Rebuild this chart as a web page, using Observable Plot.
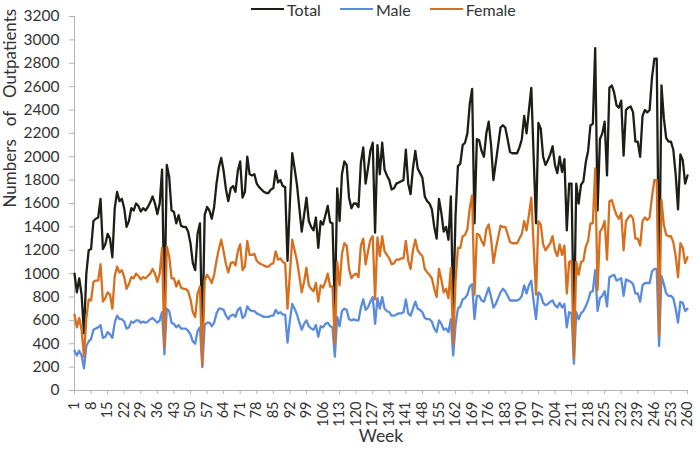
<!DOCTYPE html>
<html>
<head>
<meta charset="utf-8">
<script src="https://cdn.jsdelivr.net/npm/d3@7"></script>
<script src="https://cdn.jsdelivr.net/npm/@observablehq/plot@0.6"></script>
<style>
  html, body { margin: 0; padding: 0; background: #fff; }
  #wrap { position: relative; width: 700px; height: 453px; font-family: Lato, "Liberation Sans", sans-serif; }
  #legend { position: absolute; top: 0; left: 251px; height: 18px; display: flex; align-items: center; font-size: 16px; color: #333; z-index: 2; }
  #legend .item { display: flex; align-items: center; margin-right: 19px; }
  #legend .sw { width: 33px; height: 0; border-top: 2.5px solid; margin-right: 3px; }
</style>
</head>
<body>
<div id="wrap"><div id="legend"></div><div id="chart"></div></div>
<script>
const seriesNames = ["Total", "Male", "Female"];
const seriesColors = ["#1e1e18", "#5b8bdc", "#d6701e"];

const weeks = d3.range(1, 261);

const total = [
1000,840,960,820,490,1000,1200,1210,1450,1470,1480,1640,1210,1250,1340,1300,1140,1560,1700,1620,
1640,1560,1400,1450,1560,1540,1600,1580,1530,1560,1540,1570,1610,1660,1600,1510,1600,1890,680,1930,
1830,1540,1530,1430,1500,1410,1400,1400,1360,1260,1090,1030,1340,1430,420,1500,1570,1540,1470,1570,
1770,1910,1990,1880,1720,1620,1730,1750,1700,1880,1960,1650,1700,2000,1850,1840,1850,1770,1740,1720,
1700,1690,1690,1720,1730,1880,1780,1800,1750,1740,1110,1600,2030,1900,1760,1560,1360,1500,1650,1450,
1400,1370,1480,1220,1450,1420,1500,1580,1440,1430,690,1730,1450,1850,1960,1930,1650,1560,1600,1600,
1570,1950,2080,1770,1900,2050,2120,1350,2100,1850,2120,1890,1840,1800,1720,1730,1770,1780,1790,1800,
2060,1770,1680,1900,2050,1900,1860,1820,1660,1620,1600,1550,1400,1300,1640,1520,1360,1400,1290,1660,
700,1500,1920,1940,2100,2120,2200,2450,2580,1430,2150,2140,2050,2000,2200,2300,2100,1800,1950,2100,
2250,2270,2250,2150,2040,2030,2030,2030,2080,2150,2350,2200,2400,2590,2000,1430,2290,2240,2000,1930,
1970,2020,2090,1930,1860,2000,1870,1980,1370,1770,1770,500,1770,1600,1760,1790,1950,2050,2270,2280,
2930,1540,2150,2200,2300,1840,2590,2610,2550,2440,2420,2480,2010,2400,2420,2430,2380,2130,2130,2000,
2350,2400,2380,2400,2680,2840,2840,850,2610,2330,2160,2130,2130,2060,1850,1550,2020,1970,1770,1840
];

const female = [
650,540,620,520,290,620,780,770,930,940,940,1080,760,790,840,820,700,980,1060,1010,
1030,970,870,910,970,960,1000,980,950,970,960,980,1000,1040,1000,930,1000,1220,370,1230,
1150,960,960,890,940,880,870,870,850,780,670,630,830,890,220,940,990,960,920,990,
1110,1210,1290,1190,1080,1010,1090,1100,1070,1190,1250,1030,1060,1280,1160,1160,1170,1110,1090,1080,
1070,1060,1060,1080,1090,1190,1120,1130,1100,1090,700,1000,1290,1200,1110,980,840,930,1050,900,
870,850,920,760,900,880,930,1000,890,890,400,1100,900,1170,1260,1240,1040,960,990,1000,
970,1240,1300,1080,1190,1290,1320,780,1310,1150,1320,1190,1160,1130,1080,1090,1120,1120,1130,1130,
1280,1110,1040,1200,1290,1200,1170,1150,1040,1010,990,960,870,800,1040,950,840,870,790,1050,
400,940,1220,1220,1320,1330,1380,1560,1670,820,1340,1330,1280,1240,1380,1420,1300,1090,1210,1310,
1410,1400,1400,1340,1270,1260,1260,1260,1300,1340,1450,1370,1500,1650,1240,820,1450,1420,1250,1200,
1230,1260,1320,1200,1150,1250,1160,1240,830,1100,1110,270,1100,990,1100,1110,1230,1280,1430,1430,
1900,860,1360,1390,1450,1120,1620,1630,1560,1500,1470,1520,1200,1450,1480,1500,1470,1300,1300,1240,
1450,1480,1460,1480,1660,1800,1800,470,1630,1420,1330,1320,1320,1270,1150,970,1260,1220,1090,1140
];

const male = [
340,300,340,300,190,380,420,440,520,530,540,560,450,460,500,480,450,580,640,610,
610,590,530,540,590,580,600,600,580,590,580,590,610,620,600,580,600,670,310,700,
680,580,570,540,560,530,530,530,510,480,420,400,510,540,200,560,580,580,550,580,
660,700,700,690,640,610,640,650,630,690,710,620,640,720,690,680,680,660,650,640,
630,630,630,640,640,690,660,670,650,650,410,600,740,700,650,580,520,570,600,550,
530,520,560,460,550,540,570,580,550,540,290,630,550,680,700,690,610,600,610,600,
600,710,780,690,710,760,800,570,790,700,800,700,680,670,640,640,650,660,660,670,
780,660,640,700,760,700,690,670,620,610,610,590,530,500,600,570,520,530,500,610,
300,560,700,720,780,790,820,890,910,610,810,810,770,760,820,880,800,710,740,790,
840,870,850,810,770,770,770,770,780,810,900,830,900,940,760,610,840,820,750,730,
740,760,770,730,710,750,710,740,540,670,660,230,670,610,660,680,720,770,840,850,
1030,680,790,810,850,720,970,980,990,940,950,960,810,950,940,930,910,830,830,760,
900,920,920,920,1020,1040,1040,380,980,910,830,810,810,790,700,580,760,750,680,700
];

const xTicks = [1,8,15,22,29,36,43,50,57,64,71,78,85,92,99,106,113,120,127,134,141,148,155,162,169,176,183,190,197,204,211,218,225,232,239,246,253,260];
const yTicks = [0,200,400,600,800,1000,1200,1400,1600,1800,2000,2200,2400,2600,2800,3000,3200];
const xTitle = "Week";
const yTitle = "Numbers\u00a0\u00a0 of\u00a0\u00a0 Outpatients";

const seriesValues = [total, male, female];
const rows = [];
seriesNames.forEach((name, s) => {
  weeks.forEach((w, i) => rows.push({week: w, series: name, value: seriesValues[s][i]}));
});

const axisGray = "#b4b4b4";
const textColor = "#333";

const chart = Plot.plot({
  width: 700,
  height: 453,
  marginLeft: 74,
  marginRight: 13,
  marginTop: 16,
  marginBottom: 63,
  style: {fontFamily: "Lato, 'Liberation Sans', sans-serif", background: "white", color: textColor},
  x: {domain: [1, 260]},
  y: {domain: [0, 3200]},
  color: {domain: seriesNames, range: seriesColors},
  marks: [
    Plot.axisY({ticks: yTicks, tickSize: 5, tickPadding: 10, fontSize: 15.5, stroke: axisGray, fill: textColor, label: null, tickFormat: d => String(d)}),
    Plot.axisX({ticks: xTicks, tickSize: 4, tickPadding: 7, tickRotate: -90, fontSize: 14.5, stroke: axisGray, fill: textColor, label: null, tickFormat: d => String(d)}),
    Plot.ruleX([1], {stroke: axisGray}),
    Plot.ruleY([0], {stroke: axisGray}),
    Plot.line(rows, {x: "week", y: "value", z: "series", stroke: "series", strokeWidth: 2.3, strokeLinejoin: "round"}),
    Plot.text([xTitle], {frameAnchor: "bottom", dy: 51, fontSize: 17.5, fill: textColor}),
    Plot.text([yTitle], {frameAnchor: "left", rotate: -90, dx: -64, dy: 4, fontSize: 17, fill: textColor})
  ]
});
document.getElementById("chart").appendChild(chart);

const legend = d3.select("#legend");
seriesNames.forEach((name, i) => {
  const it = legend.append("div").attr("class", "item");
  it.append("div").attr("class", "sw").style("border-top-color", seriesColors[i]);
  it.append("span").text(name);
});
</script>
</body>
</html>
